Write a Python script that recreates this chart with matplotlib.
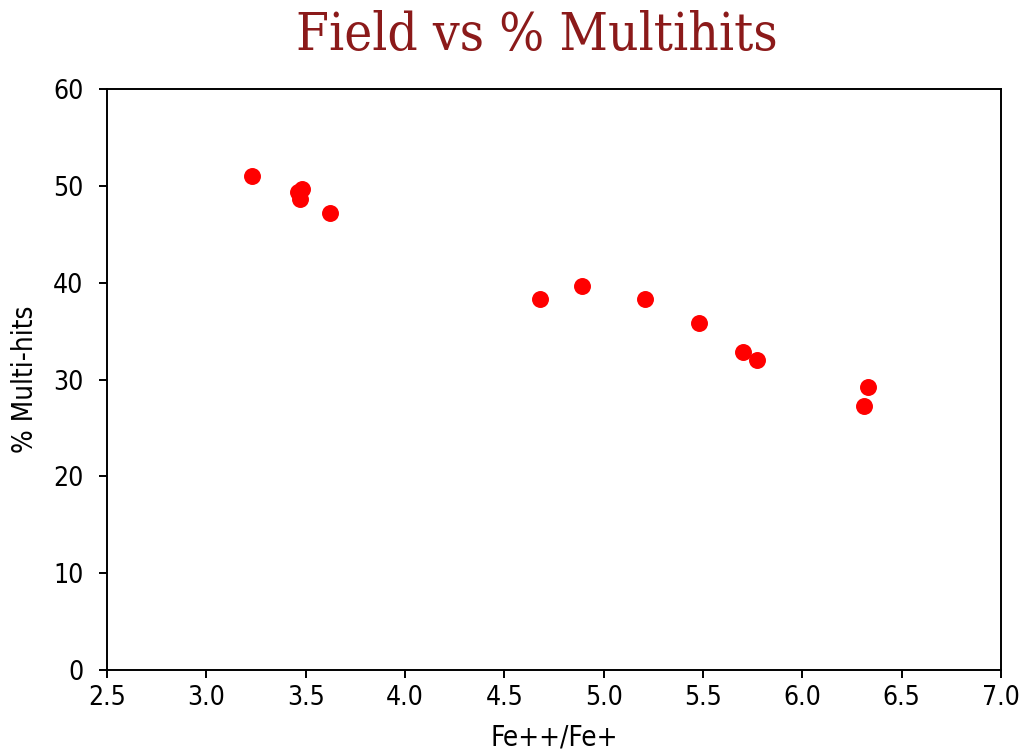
import matplotlib
matplotlib.use("Agg")
import matplotlib.pyplot as plt

# Fe++/Fe+ ratio against percentage of multi-hit events
ratio = [3.23, 3.46, 3.48, 3.47, 3.62, 4.68, 4.89, 5.21, 5.48, 5.70, 5.77, 6.33, 6.31]
multihits = [51.0, 49.4, 49.7, 48.6, 47.2, 38.3, 39.7, 38.3, 35.8, 32.8, 32.0, 29.2, 27.3]

fig = plt.figure(figsize=(10.26, 7.55), dpi=100)
ax = fig.add_axes([0.1043, 0.1126, 0.8713, 0.7695])

ax.scatter(ratio, multihits, color='red', s=125, zorder=3)

ax.set_xlim(2.5, 7.0)
ax.set_ylim(0, 60)
ax.set_xticks([2.5, 3.0, 3.5, 4.0, 4.5, 5.0, 5.5, 6.0, 6.5, 7.0])
ax.set_yticks([0, 10, 20, 30, 40, 50, 60])
ax.tick_params(length=6, width=1.4)
ax.tick_params(axis='x', pad=5)
ax.tick_params(axis='y', pad=11)
for lab in ax.get_xticklabels() + ax.get_yticklabels():
    lab.set_fontsize(19)
    lab.set_fontstretch('condensed')
for sp in ax.spines.values():
    sp.set_linewidth(1.4)

ax.set_xlabel("Fe++/Fe+", fontsize=20, fontstretch='condensed', labelpad=9)
ax.set_ylabel("% Multi-hits", fontsize=20, fontstretch='condensed', labelpad=10)
fig.text(0.523, 0.953, "Field vs % Multihits", ha='center', va='center',
         fontsize=38, color='#8b1a1a', family='DejaVu Serif', stretch='condensed')

fig.savefig("out.png", dpi=100)
